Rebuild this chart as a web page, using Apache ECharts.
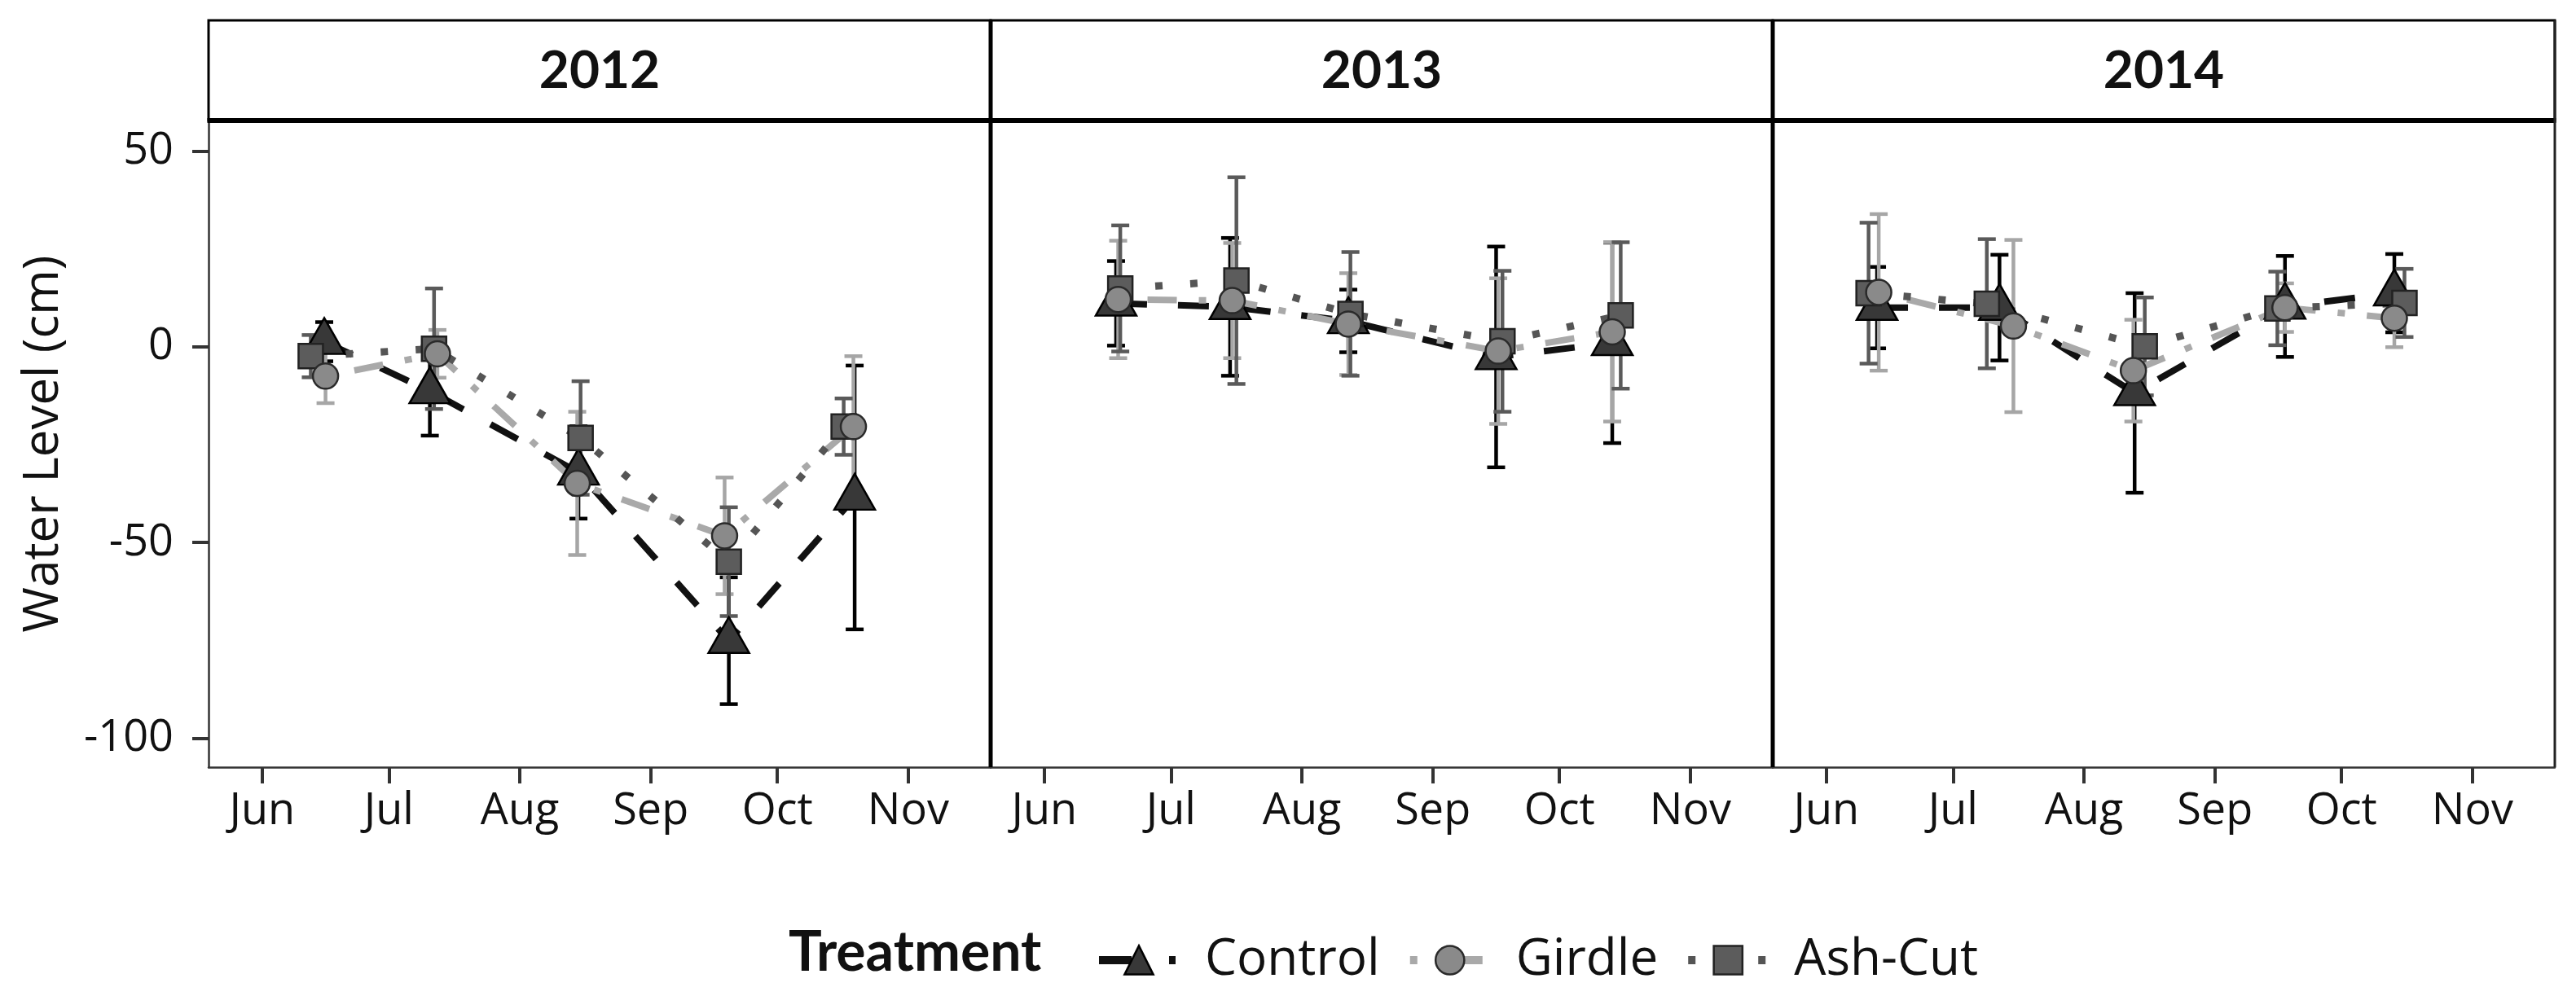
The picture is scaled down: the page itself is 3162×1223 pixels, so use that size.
<!DOCTYPE html>
<html><head><meta charset="utf-8">
<script src="https://cdn.jsdelivr.net/npm/echarts@6/dist/echarts.min.js"></script>
<style>html,body{margin:0;padding:0;background:#fff}#chart{width:3162px;height:1223px}</style>
</head><body><div id="chart"></div>
<script>
// ---- categories / tick labels ----
const years = ['2012', '2013', '2014'];
const treatments = ['Control', 'Girdle', 'Ash-Cut'];
const monthLabels = ['Jun', 'Jul', 'Aug', 'Sep', 'Oct', 'Nov'];
const monthStartDays = [0, 30, 61, 92, 122, 153]; // days after 1 June
const yTickValues = [-100, -50, 0, 50];

// ---- sampling day (days after 1 June) ----
const dayCtl2012 = [14.7, 39.7, 74.9, 110.5, 140.3];
const dayGir2012 = [15.0, 41.5, 74.6, 109.5, 140.0];
const dayAsh2012 = [11.5, 40.7, 75.4, 110.5, 137.7];
const dayCtl2013 = [17.0, 44.0, 72.0, 107.0, 134.5];
const dayGir2013 = [17.5, 44.5, 72.0, 107.5, 134.5];
const dayAsh2013 = [18.0, 45.5, 72.5, 108.5, 136.5];
const dayCtl2014 = [12.0, 41.0, 73.0, 108.6, 134.5];
const dayGir2014 = [12.4, 44.3, 72.7, 108.6, 134.5];
const dayAsh2014 = [10.0, 38.0, 75.4, 106.8, 136.9];

// ---- mean water level (cm) ----
const meanCtl2012 = [1.3, -11.3, -32.1, -75.1, -38.5];
const meanGir2012 = [-7.5, -1.8, -34.9, -48.3, -20.4];
const meanAsh2012 = [-2.4, -0.5, -23.3, -54.9, -20.4];
const meanCtl2013 = [11.1, 10.2, 6.6, -2.6, 1.0];
const meanGir2013 = [12.1, 11.8, 5.8, -1.1, 3.8];
const meanAsh2013 = [14.9, 16.9, 8.4, 1.4, 8.0];
const meanCtl2014 = [10.0, 10.0, -11.8, 10.3, 13.7];
const meanGir2014 = [13.9, 5.3, -6.1, 10.0, 7.3];
const meanAsh2014 = [13.7, 11.0, 0.1, 9.8, 11.2];

// ---- error (half-length of error bar, cm) ----
const errCtl2012 = [5.0, 11.4, 11.8, 16.2, 33.7];
const errGir2012 = [6.9, 6.1, 18.3, 14.9, 18.0];
const errAsh2012 = [5.4, 15.4, 14.5, 13.9, 7.2];
const errCtl2013 = [10.8, 17.6, 8.0, 28.2, 25.6];
const errGir2013 = [15.0, 14.7, 13.0, 18.6, 22.9];
const errAsh2013 = [16.1, 26.4, 15.8, 18.0, 18.7];
const errCtl2014 = [10.4, 13.5, 25.5, 12.9, 10.0];
const errGir2014 = [20.0, 22.0, 13.0, 6.2, 7.4];
const errAsh2014 = [18.0, 16.5, 12.5, 9.4, 8.7];

const days = [[dayCtl2012, dayGir2012, dayAsh2012], [dayCtl2013, dayGir2013, dayAsh2013], [dayCtl2014, dayGir2014, dayAsh2014]];
const means = [[meanCtl2012, meanGir2012, meanAsh2012], [meanCtl2013, meanGir2013, meanAsh2013], [meanCtl2014, meanGir2014, meanAsh2014]];
const errs = [[errCtl2012, errGir2012, errAsh2012], [errCtl2013, errGir2013, errAsh2013], [errCtl2014, errGir2014, errAsh2014]];

// ---- styles ----
const styles = [
  { symbol: 'triangle', size: [50, 44], offset: [0, -7], fill: '#383838', border: '#000', line: '#111111', dash: [38, 38], lw: 8, err: '#000000', legendDash: [40, 46, 8, 4] },
  { symbol: 'circle', size: 31, offset: [0, 0], fill: '#8a8a8a', border: '#2a2a2a', line: '#a9a9a9', dash: [9, 27, 36, 27], lw: 8, err: '#a6a6a6', legendDash: [9, 40, 40, 20] },
  { symbol: 'rect', size: 30, offset: [0, 0], fill: '#5c5c5c', border: '#222', line: '#555555', dash: [9, 34], lw: 9, err: '#5a5a5a', legendDash: [9, 77, 9, 10] }
];

const FONT = "'Open Sans', 'DejaVu Sans', sans-serif";
const PANEL_LEFT = 256, PANEL_W = 960, PANEL_TOP = 148, PANEL_H = 794;

function errRender(color) {
  return function (params, api) {
    const x = api.value(0), lo = api.value(1), hi = api.value(2);
    const a = api.coord([x, lo]), b = api.coord([x, hi]);
    const hw = 11;
    const st = { stroke: color, lineWidth: 4.5 };
    return {
      type: 'group', children: [
        { type: 'line', shape: { x1: a[0], y1: a[1], x2: b[0], y2: b[1] }, style: st },
        { type: 'line', shape: { x1: a[0] - hw, y1: a[1], x2: a[0] + hw, y2: a[1] }, style: st },
        { type: 'line', shape: { x1: b[0] - hw, y1: b[1], x2: b[0] + hw, y2: b[1] }, style: st }
      ]
    };
  };
}

const grids = [], xAxes = [], yAxes = [], series = [], graphics = [];
years.forEach((yr, yi) => {
  grids.push({ left: PANEL_LEFT + PANEL_W * yi, top: PANEL_TOP, width: PANEL_W, height: PANEL_H, containLabel: false });
  xAxes.push({
    gridIndex: yi, type: 'value', min: -12.7, max: 172.5,
    axisLine: { show: true, onZero: false, lineStyle: { color: '#333', width: 2.5 } },
    axisTick: { show: true, customValues: monthStartDays, length: 20, lineStyle: { color: '#333', width: 4 } },
    axisLabel: {
      show: true, customValues: monthStartDays, margin: 28, fontSize: 54, color: '#111', fontFamily: FONT,
      formatter: v => monthLabels[monthStartDays.indexOf(v)] || ''
    },
    splitLine: { show: false }
  });
  yAxes.push({
    gridIndex: yi, type: 'value', min: -107.4, max: 57.8,
    axisLine: { show: yi === 0, onZero: false, lineStyle: { color: '#333', width: 2.5 } },
    axisTick: { show: yi === 0, customValues: yTickValues, length: 20, lineStyle: { color: '#333', width: 4 } },
    axisLabel: { show: yi === 0, customValues: yTickValues, margin: 43, fontSize: 54, color: '#111', fontFamily: FONT },
    splitLine: { show: false },
    name: yi === 0 ? 'Water Level (cm)' : '', nameLocation: 'middle', nameGap: 172,
    nameTextStyle: { fontSize: 60, color: '#111', fontFamily: FONT }
  });
  treatments.forEach((tr, ti) => {
    const s = styles[ti];
    const d = days[yi][ti], m = means[yi][ti], e = errs[yi][ti];
    series.push({
      type: 'custom', name: tr + ' error ' + yr, xAxisIndex: yi, yAxisIndex: yi, z: 1,
      renderItem: errRender(s.err), encode: { x: 0, y: [1, 2] },
      data: d.map((x, i) => [x, m[i] - e[i], m[i] + e[i]])
    });
  });
  treatments.forEach((tr, ti) => {
    const s = styles[ti];
    const d = days[yi][ti], m = means[yi][ti];
    series.push({
      type: 'line', name: tr, xAxisIndex: yi, yAxisIndex: yi, z: 2,
      symbol: s.symbol, showSymbol: false, symbolSize: 30,
      itemStyle: { color: s.fill, borderColor: s.border, borderWidth: 2.5 },
      lineStyle: { color: s.line, width: s.lw, type: s.dash, cap: 'butt' },
      data: d.map((x, i) => [x, m[i]])
    });
  });
  [0, 2, 1].forEach(ti => {
    const s = styles[ti];
    const d = days[yi][ti], m = means[yi][ti];
    series.push({
      type: 'scatter', name: treatments[ti] + ' points ' + yr, xAxisIndex: yi, yAxisIndex: yi, z: 3,
      symbol: s.symbol, symbolSize: s.size, symbolOffset: s.offset,
      itemStyle: { color: s.fill, borderColor: s.border, borderWidth: 2.5, opacity: 1 },
      data: d.map((x, i) => [x, m[i]])
    });
  });
  // strip
  graphics.push({
    type: 'rect', z: 10,
    shape: { x: PANEL_LEFT + PANEL_W * yi, y: 25, width: PANEL_W, height: PANEL_TOP - 25 },
    style: { fill: '#fff', stroke: '#000', lineWidth: 3 }
  });
  graphics.push({
    type: 'text', z: 11, x: PANEL_LEFT + PANEL_W * yi + PANEL_W / 2, y: 87,
    style: { text: yr, font: "bold 64px Lato, 'Open Sans', sans-serif", fill: '#111', align: 'center', verticalAlign: 'middle' }
  });
});

// panel frame lines
graphics.push({ type: 'line', z: 12, shape: { x1: PANEL_LEFT - 1.5, y1: PANEL_TOP, x2: PANEL_LEFT + 3 * PANEL_W + 1.5, y2: PANEL_TOP }, style: { stroke: '#000', lineWidth: 6 } });
[1, 2].forEach(i => {
  graphics.push({ type: 'line', z: 12, shape: { x1: PANEL_LEFT + PANEL_W * i, y1: 25, x2: PANEL_LEFT + PANEL_W * i, y2: PANEL_TOP + PANEL_H }, style: { stroke: '#000', lineWidth: 5 } });
});
graphics.push({ type: 'line', z: 12, shape: { x1: PANEL_LEFT + 3 * PANEL_W, y1: 25, x2: PANEL_LEFT + 3 * PANEL_W, y2: PANEL_TOP + PANEL_H }, style: { stroke: '#222', lineWidth: 3 } });

// legend title
graphics.push({
  type: 'text', z: 12, x: 968, y: 1170,
  style: { text: 'Treatment', font: "bold 68px Lato, 'Open Sans', sans-serif", fill: '#111', align: 'left', verticalAlign: 'middle' }
});

const legendData = treatments.map((tr, ti) => ({
  name: tr,
  lineStyle: { color: styles[ti].line, width: 10, type: styles[ti].legendDash, cap: 'butt' },
  itemStyle: { color: styles[ti].fill, borderColor: styles[ti].border, borderWidth: 2.5 }
}));

const chart = echarts.init(document.getElementById('chart'), null, { renderer: 'canvas' });
chart.setOption({
  animation: false,
  backgroundColor: '#fff',
  grid: grids, xAxis: xAxes, yAxis: yAxes, series: series,
  legend: {
    data: legendData, left: 1344, top: 1148, padding: 0, orient: 'horizontal',
    itemWidth: 98, itemHeight: 44, itemGap: 32,
    textStyle: { fontSize: 62, color: '#111', fontFamily: FONT, padding: [0, 0, 0, 27] },
    selectedMode: false
  },
  graphic: graphics
});
</script></body></html>
